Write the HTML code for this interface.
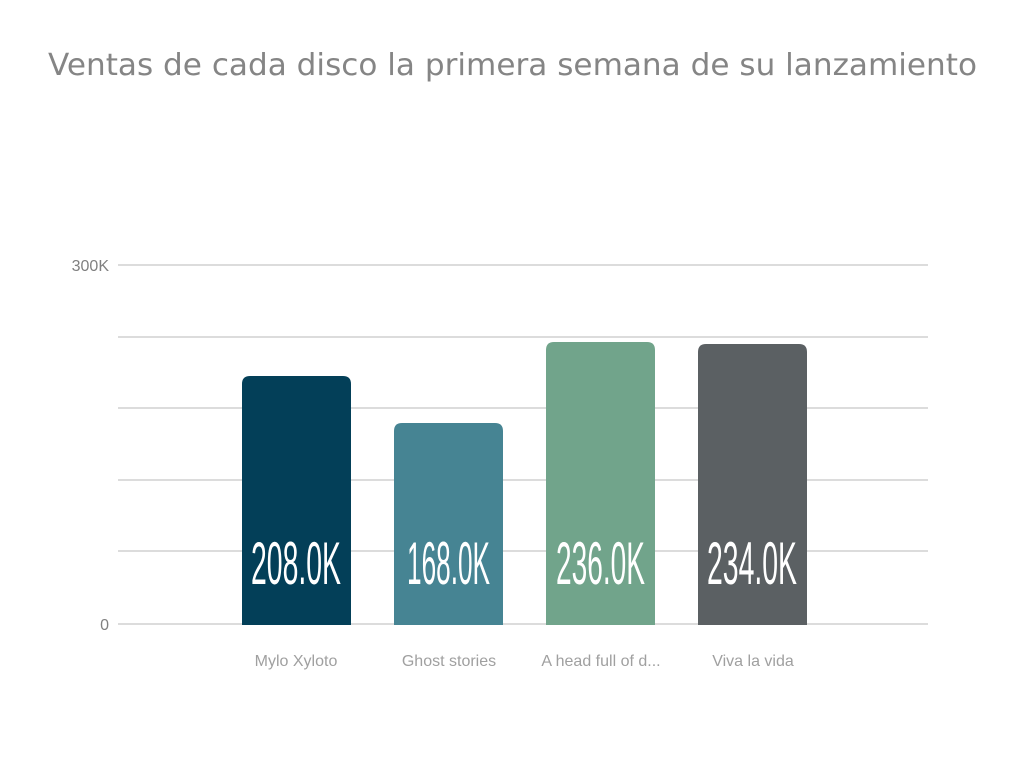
<!DOCTYPE html>
<html><head><meta charset="utf-8"><style>html,body{margin:0;padding:0;background:#fff;}</style></head>
<body>
<svg width="1024" height="768" xmlns="http://www.w3.org/2000/svg" style="display:block">
<text x="48" y="75" textLength="929" lengthAdjust="spacingAndGlyphs" font-family="DejaVu Sans, sans-serif" font-size="30" fill="#858585">Ventas de cada disco la primera semana de su lanzamiento</text>
<g stroke="#dcdcdc" stroke-width="2">
<line x1="118" y1="265" x2="928" y2="265"/>
<line x1="118" y1="337" x2="928" y2="337"/>
<line x1="118" y1="408" x2="928" y2="408"/>
<line x1="118" y1="480" x2="928" y2="480"/>
<line x1="118" y1="551" x2="928" y2="551"/>
<line x1="118" y1="624" x2="928" y2="624"/>
</g>
<g font-family="Liberation Sans, sans-serif" font-size="16" fill="#808080" text-anchor="end">
<text x="109" y="271">300K</text>
<text x="109" y="630">0</text>
</g>
<path d="M242,625 V384 Q242,376 250,376 H343 Q351,376 351,384 V625 Z" fill="#033f58"/>
<path d="M394,625 V431 Q394,423 402,423 H495 Q503,423 503,431 V625 Z" fill="#468493"/>
<path d="M546,625 V350 Q546,342 554,342 H647 Q655,342 655,350 V625 Z" fill="#71a48b"/>
<path d="M698,625 V352 Q698,344 706,344 H799 Q807,344 807,352 V625 Z" fill="#5b6063"/>
<g font-family="Liberation Sans Narrow, Liberation Sans, sans-serif" font-size="60" fill="#fff" font-weight="normal">
<text x="251" y="584" textLength="90" lengthAdjust="spacingAndGlyphs">208.0K</text>
<text x="407" y="584" textLength="83" lengthAdjust="spacingAndGlyphs">168.0K</text>
<text x="556" y="584" textLength="89" lengthAdjust="spacingAndGlyphs">236.0K</text>
<text x="707" y="584" textLength="90" lengthAdjust="spacingAndGlyphs">234.0K</text>
</g>
<g font-family="Liberation Sans, sans-serif" font-size="16" fill="#a0a0a0" text-anchor="middle">
<text x="296" y="666">Mylo Xyloto</text>
<text x="449" y="666">Ghost stories</text>
<text x="601" y="666">A head full of d...</text>
<text x="753" y="666">Viva la vida</text>
</g>
</svg>
</body></html>
